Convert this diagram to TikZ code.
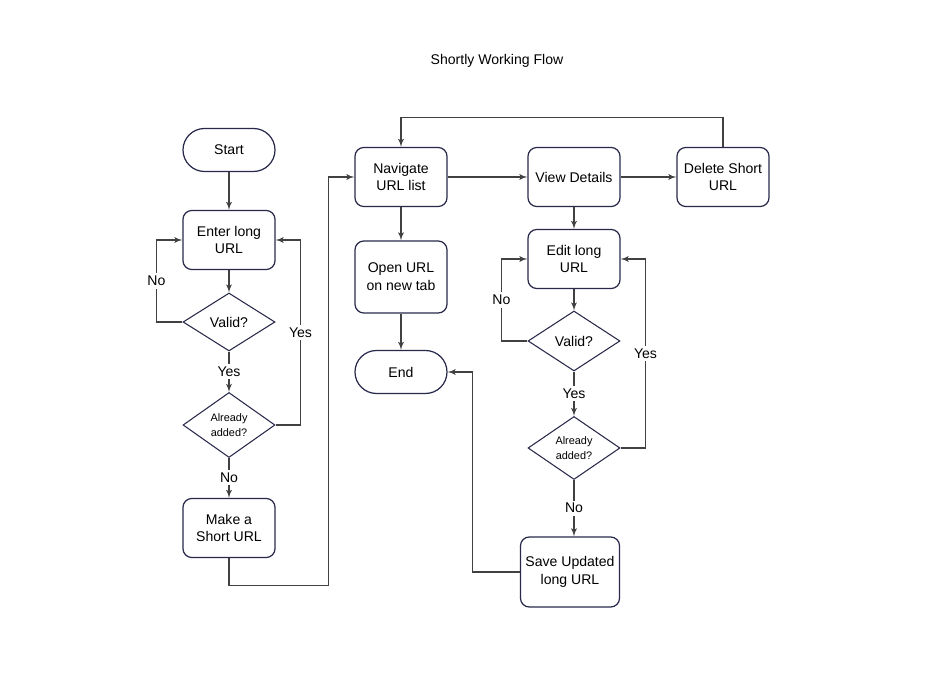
\documentclass[tikz,border=0pt]{standalone}
\usepackage{fontspec}
\setmainfont{Liberation Sans}
\usepackage{tikz}
\usetikzlibrary{arrows}
\usetikzlibrary{positioning}
\usetikzlibrary{shapes.geometric}
\definecolor{boxline}{RGB}{40,40,75}
\definecolor{edgeline}{RGB}{65,65,65}
\tikzstyle{every node}+=[inner sep=0pt]
\tikzstyle{block} = [rectangle, draw=boxline, line width=0.7pt, text centered, rounded corners=5pt, minimum width=1.84cm, minimum height=1.18cm, align=center]
\tikzstyle{terminal} = [rectangle, draw=boxline, line width=0.7pt, text centered, rounded corners=0.43cm, minimum width=1.84cm, minimum height=0.86cm]
\tikzstyle{decision} = [diamond, draw=boxline, line width=0.6pt, text centered, minimum width=1.84cm, minimum height=1.16cm, align=center]
\tikzstyle{line} = [draw=edgeline, line width=0.6pt, -latex']
\tikzstyle{answer} = [fill=white, inner sep=1.5pt]

\begin{document}
\begin{tikzpicture}[node distance = 2cm, font=\fontsize{8}{10.2}\selectfont]
            \useasboundingbox (-4.58,3.0) rectangle (14.32,-10.52);
            % Place nodes
            \node [terminal] (start) {Start};
            \node [above right=1.78cm and 5.36cm of start.center, anchor=center] (title) {Shortly Working Flow};
            \node [block, below of=start, node distance=1.8cm] (enter) {Enter long\\URL};
            \node [decision, below of=enter, node distance=1.64cm] (valid) {Valid?};
            \node [decision, below of=valid, node distance=2.06cm, minimum height=1.3cm, font=\fontsize{6.2}{8.4}\selectfont] (added) {Already\\added?};
            \node [block, below of=added, node distance=2.06cm] (make) {Make a\\Short URL};
            \node [block, right of=start, node distance=3.44cm, yshift=-0.54cm] (nav) {Navigate\\URL list};
            \node [block, right of=nav, node distance=3.46cm] (view) {View Details};
            \node [block, right of=view, node distance=2.98cm] (del) {Delete Short\\URL};
            \node [block, below of=nav, node distance=2.0cm, minimum height=1.44cm] (open) {Open URL\\on new tab};
            \node [terminal, below of=open, node distance=1.9cm] (end) {End};
            \node [block, below of=view, node distance=1.64cm] (edit) {Edit long\\URL};
            \node [decision, below of=edit, node distance=1.64cm, minimum height=1.2cm] (valid2) {Valid?};
            \node [decision, below of=valid2, node distance=2.14cm, minimum height=1.26cm, font=\fontsize{6.2}{8.4}\selectfont] (added2) {Already\\added?};
            \node [block, below of=added2, node distance=2.48cm, xshift=-0.08cm, minimum width=1.98cm, minimum height=1.4cm] (save) {Save Updated\\long URL};
            % Draw edges
            \path [line] (start) -- (enter);
            \path [line] (enter) -- (valid);
            \path [line] (valid.west) -- ++(-0.52,0) |- node [answer, pos=0.25] {No} (enter.west);
            \path [line] (valid) -- node [answer] {Yes} (added);
            \path [line] (added.east) -- ++(0.5,0) |- node [answer, pos=0.25] {Yes} (enter.east);
            \path [line] (added) -- node [answer] {No} (make);
            \path [line] (make.south) -- ++(0,-0.54) -| ([xshift=-0.52cm]nav.west) -- (nav.west);
            \path [line] (nav) -- (view);
            \path [line] (view) -- (del);
            \path [line] (del.north) -- ++(0,0.58) -| (nav.north);
            \path [line] (nav) -- (open);
            \path [line] (open) -- (end);
            \path [line] (view) -- (edit);
            \path [line] (edit) -- (valid2);
            \path [line] (valid2.west) -- ++(-0.52,0) |- node [answer, pos=0.25] {No} (edit.west);
            \path [line] (valid2) -- node [answer] {Yes} (added2);
            \path [line] (added2.east) -- ++(0.5,0) |- node [answer, pos=0.25] {Yes} (edit.east);
            \path [line] (added2.south) -- node [answer] {No} (added2.south |- save.north);
            \path [line] (save.west) -| ([xshift=0.5cm]end.east) -- (end.east);
\end{tikzpicture}
\end{document}
